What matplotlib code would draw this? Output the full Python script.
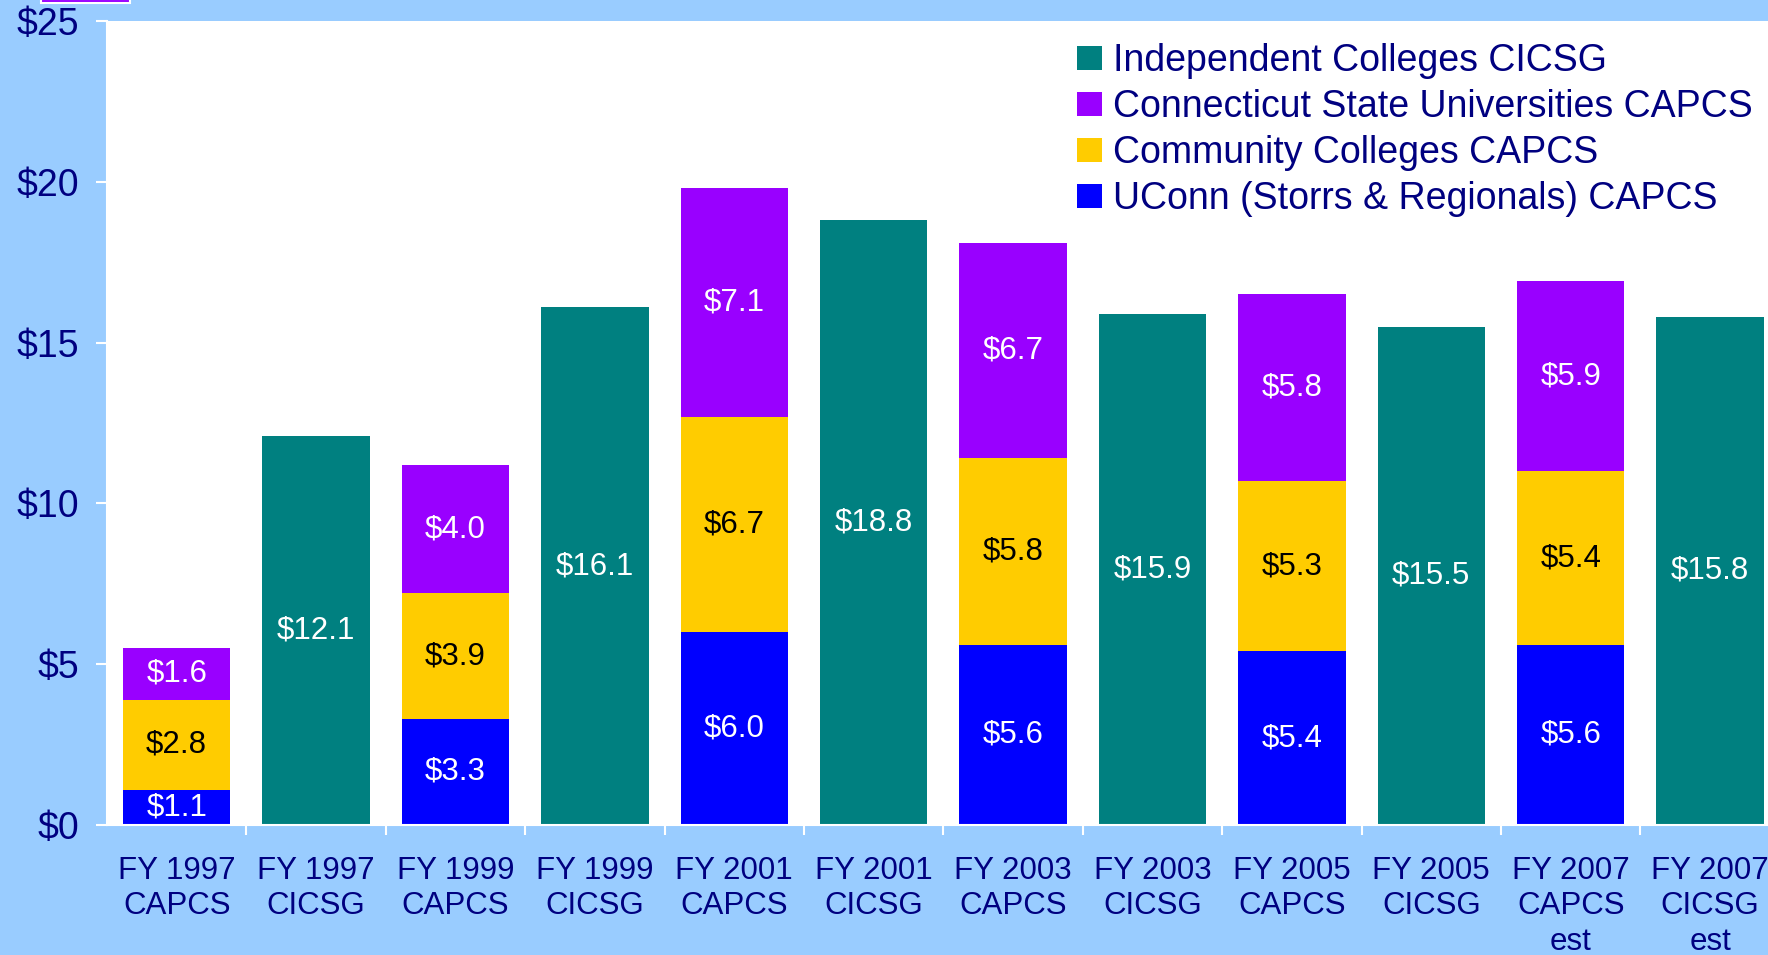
import matplotlib
matplotlib.use("Agg")
import matplotlib.pyplot as plt
from matplotlib.patches import Rectangle
import numpy as np

plt.rcParams['font.family'] = ['Liberation Sans', 'DejaVu Sans']

# bars in order, left to right
labels = ["FY 1997\nCAPCS", "FY 1997\nCICSG", "FY 1999\nCAPCS", "FY 1999\nCICSG",
          "FY 2001\nCAPCS", "FY 2001\nCICSG", "FY 2003\nCAPCS", "FY 2003\nCICSG",
          "FY 2005\nCAPCS", "FY 2005\nCICSG", "FY 2007\nCAPCS\nest", "FY 2007\nCICSG\nest"]

# $ millions, 0 where the series has no bar
uconn = [1.1, 0, 3.3, 0, 6.0, 0, 5.6, 0, 5.4, 0, 5.6, 0]
community = [2.8, 0, 3.9, 0, 6.7, 0, 5.8, 0, 5.3, 0, 5.4, 0]
csu = [1.6, 0, 4.0, 0, 7.1, 0, 6.7, 0, 5.8, 0, 5.9, 0]
independent = [0, 12.1, 0, 16.1, 0, 18.8, 0, 15.9, 0, 15.5, 0, 15.8]

yticks = [0, 5, 10, 15, 20, 25]

BG = "#99CCFF"
NAVY = "#000080"
series = [
    ("UConn (Storrs & Regionals) CAPCS", uconn, "#0000FF", "white"),
    ("Community Colleges CAPCS", community, "#FFCC00", "black"),
    ("Connecticut State Universities CAPCS", csu, "#9900FF", "white"),
    ("Independent Colleges CICSG", independent, "#008080", "white"),
]

fig = plt.figure(figsize=(17.68, 9.55), dpi=100, facecolor=BG)
# axes runs a little past the right edge, like the source slide
ax = fig.add_axes([107 / 1768, 1 - 825 / 955, 12 * 139.4 / 1768, 804 / 955])
ax.set_facecolor("white")

x = np.arange(len(labels))
bottom = np.zeros(len(labels))
handles = {}
for name, vals, color, tcol in series:
    vals = np.array(vals, dtype=float)
    bars = ax.bar(x, vals, width=0.77, bottom=bottom, color=color, label=name)
    handles[name] = bars
    for xi, b, v in zip(x, bottom, vals):
        if v > 0:
            ax.text(xi, b + v / 2, f"${v:.1f}", ha="center", va="center",
                    color=tcol, fontsize=22.5)
    bottom += vals

ax.set_xlim(-0.5, len(labels) - 0.5)
ax.set_ylim(0, 25)
ax.set_yticks(yticks)
ax.set_yticklabels([f"${t}" for t in yticks], fontsize=27, color=NAVY)
ax.set_xticks(x + 0.5, minor=False)
ax.set_xticklabels([])
ax.set_xticks(x, minor=True)
ax.set_xticklabels(labels, minor=True, fontsize=22.5, color=NAVY, linespacing=1.25)
ax.tick_params(axis="x", which="minor", length=0, pad=22)
ax.tick_params(axis="x", which="major", length=7, width=1.5, color="white")
ax.tick_params(axis="y", length=8, width=1.5, color="white", pad=12)
for side in ["top", "right"]:
    ax.spines[side].set_visible(False)
for side in ["left", "bottom"]:
    ax.spines[side].set_color("white")
    ax.spines[side].set_linewidth(1.5)

order = ["Independent Colleges CICSG", "Connecticut State Universities CAPCS",
         "Community Colleges CAPCS", "UConn (Storrs & Regionals) CAPCS"]
leg = ax.legend([handles[n] for n in order], order, loc="upper left",
                bbox_to_anchor=(1077 / 1768, 1 - 43 / 955), bbox_transform=fig.transFigure,
                frameon=False, fontsize=27, handlelength=0.67, handleheight=0.61,
                handletextpad=0.3, labelspacing=0.27, borderaxespad=0, borderpad=0)
for t in leg.get_texts():
    t.set_color(NAVY)

# leftover purple box cut off at the top of the slide
fig.patches.append(Rectangle((41 / 1768, 1 - 3 / 955), 89 / 1768, 4 / 955,
                             transform=fig.transFigure, facecolor="#9900FF",
                             edgecolor="white", linewidth=1.5))

fig.savefig("out.png", dpi=100, facecolor=BG)
